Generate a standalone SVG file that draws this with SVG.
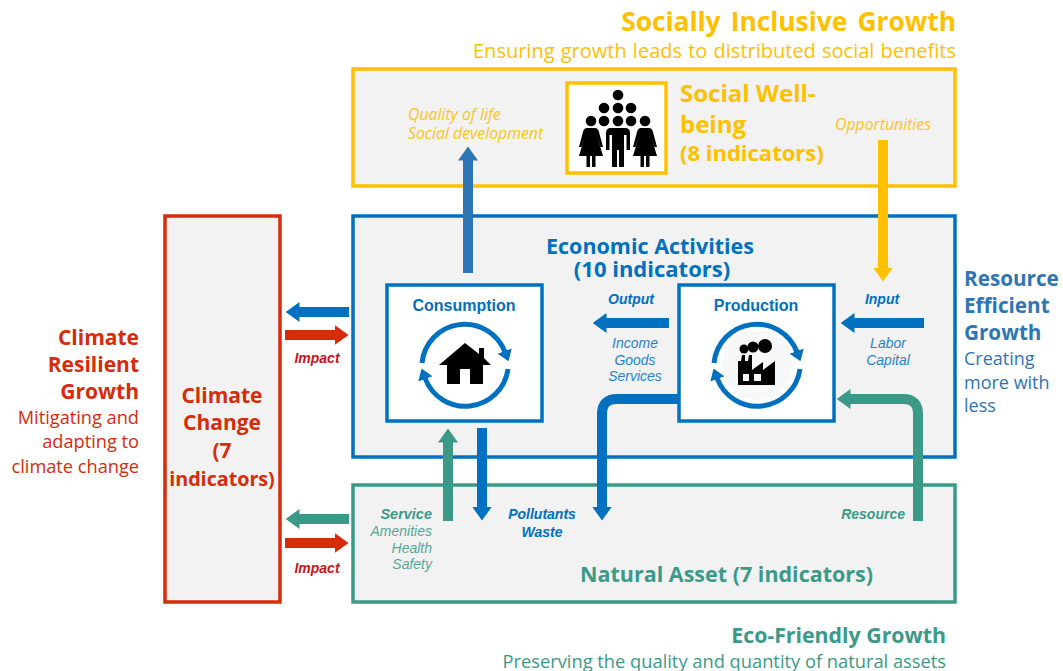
<svg xmlns="http://www.w3.org/2000/svg" width="1063" height="671" viewBox="0 0 1063 671">
<style>
.panel{fill:#f2f2f2;stroke-width:3.5}
.white{fill:#fff;stroke-width:3.5}
.h{font-family:"Open Sans","Noto Sans",sans-serif;font-weight:700}
.s{font-family:"Open Sans","Noto Sans",sans-serif}
.a{font-family:"Liberation Sans",Arial,sans-serif}
.bi{font-family:"Liberation Sans",Arial,sans-serif;font-weight:700;font-style:italic;font-size:14px}
.i{font-family:"Liberation Sans",Arial,sans-serif;font-style:italic;font-size:14px;opacity:.85}
.si{font-family:"Open Sans","Noto Sans",sans-serif;font-style:italic;font-size:15.800px;fill:#ffc000;opacity:.9}
.end{text-anchor:end}.mid{text-anchor:middle}
.y{fill:#ffc000}.b{fill:#0070c0}.g{fill:#3a9a87}.r{fill:#d62c0a}.dr{fill:#c8141a}
.arr{fill:none;stroke-width:10}
.cyc{fill:none;stroke:#0070c0;stroke-width:5}
</style>
<defs>
<marker id="mB" markerUnits="userSpaceOnUse" markerWidth="14" markerHeight="20" refX="0.5" refY="10" orient="auto"><path d="M0 0L14 10L0 20Z" fill="#0070c0"/></marker>
<marker id="mS" markerUnits="userSpaceOnUse" markerWidth="14" markerHeight="20" refX="0.5" refY="10" orient="auto"><path d="M0 0L14 10L0 20Z" fill="#2e75b6"/></marker>
<marker id="mY" markerUnits="userSpaceOnUse" markerWidth="14" markerHeight="20" refX="0.5" refY="10" orient="auto"><path d="M0 0L14 10L0 20Z" fill="#ffc000"/></marker>
<marker id="mG" markerUnits="userSpaceOnUse" markerWidth="14" markerHeight="20" refX="0.5" refY="10" orient="auto"><path d="M0 0L14 10L0 20Z" fill="#3a9a87"/></marker>
<marker id="mR" markerUnits="userSpaceOnUse" markerWidth="14" markerHeight="20" refX="0.5" refY="10" orient="auto"><path d="M0 0L14 10L0 20Z" fill="#d62c0a"/></marker>
<marker id="mC" markerUnits="userSpaceOnUse" markerWidth="11" markerHeight="15" refX="1" refY="7.500" orient="auto"><path d="M0 0L11 7.500L0 15Z" fill="#0070c0"/></marker>
<g id="cycle">
<path class="cyc" d="M-43 -2A43 43 0 0 1 40 -13" marker-end="url(#mC)"/>
<path class="cyc" d="M43 4A43 43 0 0 1 -40 13" marker-end="url(#mC)"/>
</g>
<g id="woman"><path d="M-4 128H4Q7 128 8 132L12 147H9.500L6 136L12 156H4.500V167H1V156H-1V167H-4.500V156H-12L-6 136L-9.500 147H-12L-8 132Q-7 128 -4 128Z"/></g>
</defs>

<g id="yellow-panel"><rect class="panel" x="353" y="69" width="602" height="117" stroke="#ffc000"/>
<text class="si" x="408" y="120">Quality of life</text><text class="si" x="408" y="139">Social development</text>
<text class="si" x="835" y="130">Opportunities</text></g>
<g id="social-card"><rect class="white" x="567" y="83" width="99" height="90" stroke="#ffc000"/>
<g fill="#000"><circle cx="618" cy="95" r="5.300"/><circle cx="604" cy="108" r="5.300"/><circle cx="618" cy="108" r="5.300"/><circle cx="631" cy="108" r="5.300"/><circle cx="591" cy="121" r="5.300"/><circle cx="604" cy="121" r="5.300"/><circle cx="618" cy="121" r="5.300"/><circle cx="631" cy="121" r="5.300"/><circle cx="645" cy="121" r="5.300"/>
<use href="#woman" x="591"/><use href="#woman" x="645"/>
<path d="M611 128H625Q630 128 630 133V150H626.500V135H624V167H619V150H617V167H612V135H609.500V150H606V133Q606 128 611 128Z"/></g>
</g>
<g id="social-label"><text class="h y" font-size="24"><tspan x="680" y="102">Social Well-</tspan><tspan x="680" y="133">being</tspan></text><text class="h y" x="680" y="161" font-size="22">(8 indicators)</text></g>

<g id="blue-panel"><rect class="panel" x="353" y="216" width="602" height="241" stroke="#0070c0"/>
<text class="h b mid" x="650" y="254" font-size="21.500">Economic Activities</text><text class="h b mid" x="652" y="277" font-size="22">(10 indicators)</text></g>
<g id="green-panel"><rect class="panel" x="353" y="485" width="602" height="117" stroke="#3a9a87"/>
<text class="h g" x="580" y="582" font-size="21.500">Natural Asset (7 indicators)</text></g>
<g id="climate"><rect class="panel" x="165" y="216" width="115" height="386" stroke="#d62c0a"/>
<text class="h r mid" font-size="21"><tspan x="222" y="403">Climate</tspan><tspan x="222" y="430">Change</tspan><tspan x="222" y="458">(7</tspan><tspan x="222" y="486" font-size="19.700">indicators)</tspan></text></g>

<g id="consumption"><rect class="white" x="387" y="285" width="155" height="136" stroke="#0070c0"/>
<text class="a b mid" x="464" y="311" font-size="16" font-weight="700">Consumption</text>
<use href="#cycle" x="465" y="365"/>
<path d="M465 343L479 354V348H484V358L491 365H483V384H470V369H460V384H447V365H439Z"/></g>
<g id="production"><rect class="white" x="679" y="285" width="155" height="136" stroke="#0070c0"/>
<text class="a b mid" x="756" y="311" font-size="16" font-weight="700">Production</text>
<circle cx="757" cy="365" r="35" fill="#f7f8fa"/>
<use href="#cycle" x="757" y="365"/>
<path d="M738 385V361H741L742 355H745V361H748L749 355H752V370L763 362V370L775 361V385ZM743 374V381H749V374ZM754 374V381H761V374Z" fill-rule="evenodd"/>
<circle cx="744" cy="349" r="4.500"/><circle cx="753" cy="347" r="5.500"/><circle cx="765" cy="346" r="7"/></g>

<g id="connectors" class="arr">
<path stroke="#2e75b6" d="M468 273V160" marker-end="url(#mS)"/>
<path stroke="#ffc000" d="M883 140V268" marker-end="url(#mY)"/>
<path stroke="#0070c0" d="M669 323H606" marker-end="url(#mB)"/>
<path stroke="#0070c0" d="M924 323H854" marker-end="url(#mB)"/>
<path stroke="#0070c0" d="M678 399H617Q602 399 602 414V507" marker-end="url(#mB)"/>
<path stroke="#3a9a87" d="M918 521V414Q918 399 903 399H850" marker-end="url(#mG)"/>
<path stroke="#3a9a87" d="M448 521V442" marker-end="url(#mG)"/>
<path stroke="#0070c0" d="M482 428V507" marker-end="url(#mB)"/>
<path stroke="#0070c0" d="M349 312H299" marker-end="url(#mB)"/>
<path stroke="#d62c0a" d="M285 335H335" marker-end="url(#mR)"/>
<path stroke="#3a9a87" d="M349 519H299" marker-end="url(#mG)"/>
<path stroke="#d62c0a" d="M285 543H335" marker-end="url(#mR)"/>
</g>

<g id="labels">
<text class="bi dr mid" x="317" y="363">Impact</text>
<text class="bi dr mid" x="317" y="573">Impact</text>
<text class="bi b mid" x="631" y="304">Output</text>
<text class="bi b mid" x="882" y="304">Input</text>
<text class="i b mid"><tspan x="635" y="348">Income</tspan><tspan x="635" y="365">Goods</tspan><tspan x="635" y="381">Services</tspan></text>
<text class="i b mid"><tspan x="888" y="348">Labor</tspan><tspan x="888" y="365">Capital</tspan></text>
<text class="bi g end" x="432" y="519" style="font-size:14.500px">Service</text>
<text class="i g end"><tspan x="432" y="536">Amenities</tspan><tspan x="432" y="553">Health</tspan><tspan x="432" y="569">Safety</tspan></text>
<text class="bi b mid"><tspan x="542" y="519">Pollutants</tspan><tspan x="542" y="537">Waste</tspan></text>
<text class="bi g end" x="905" y="519">Resource</text>
</g>

<g id="outer-titles">
<text class="h y end" x="956" y="31" font-size="26.300" word-spacing="3.500">Socially Inclusive Growth</text>
<text class="s y end" x="956" y="58" font-size="20" word-spacing="1">Ensuring growth leads to distributed social benefits</text>
<text class="h r end" font-size="21"><tspan x="139" y="345">Climate</tspan><tspan x="139" y="372">Resilient</tspan><tspan x="139" y="399">Growth</tspan></text>
<text class="s r end" font-size="18.200"><tspan x="139" y="424">Mitigating and</tspan><tspan x="139" y="448">adapting to</tspan><tspan x="139" y="473">climate change</tspan></text>
<text class="h" fill="#2e75b6" font-size="20.700"><tspan x="964" y="286">Resource</tspan><tspan x="964" y="313">Efficient</tspan><tspan x="964" y="340">Growth</tspan></text>
<text class="s" fill="#2e75b6" font-size="18"><tspan x="964" y="365">Creating</tspan><tspan x="964" y="389">more with</tspan><tspan x="964" y="412">less</tspan></text>
<text class="h g end" x="946" y="643" font-size="21.300">Eco-Friendly Growth</text>
<text class="s g end" x="946" y="668" font-size="18.300">Preserving the quality and quantity of natural assets</text>
</g>
</svg>
